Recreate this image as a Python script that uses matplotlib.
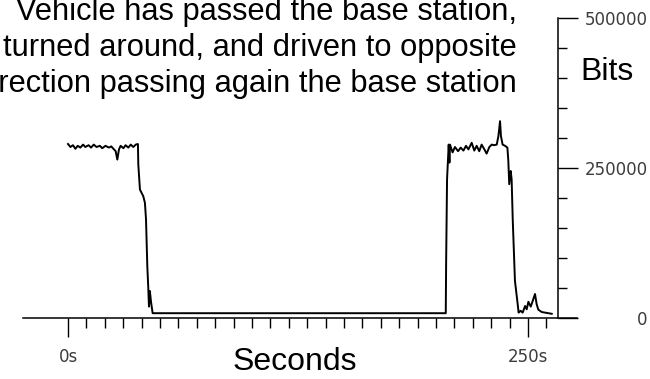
import matplotlib.pyplot as plt
from matplotlib.ticker import FixedLocator

# throughput (seconds, kilobits)
seconds = [0, 1.3, 2.7, 4, 5.3, 6.7, 8.2, 9.4, 11.2, 12.5, 14, 15.5, 17.3, 18.6,
           20.4, 22.2, 23.5, 25, 25.9, 26.8, 27.7, 28.6, 30.1, 31.3, 32.8, 34.1,
           35.5, 36.8, 38.0, 38.2, 39.1, 40.9, 41.8, 42.4, 43.1, 43.6, 44.0, 44.5,
           45.1, 46, 205.3, 205.5, 206, 206.9, 207.3, 207.6, 209, 210.3, 212,
           213.4, 214.9, 216.3, 217.6, 219.4, 220.8, 222.1, 223.5, 224.8, 226.3,
           227.5, 229, 230.3, 231.5, 233, 233.9, 234.8, 235.3, 236.2, 237.5,
           238.8, 239.3, 239.8, 240.6, 241.1, 241.7, 242.9, 244.2, 244.9, 246,
           247.1, 248.4, 249.3, 250.2, 251.5, 252.5, 253.8, 254.7, 255.6, 257.4,
           259.2, 262.9]
kbits = [290, 285, 288, 282, 287, 284, 289, 285, 288, 284, 289, 285, 287, 283,
         287, 284, 286, 281, 278, 264, 281, 287, 283, 288, 284, 289,
         285, 289, 290, 256, 214, 203, 192, 164, 86, 52, 19, 45,
         27, 8, 8, 91, 231, 289, 259, 289, 276, 285, 278,
         284, 279, 287, 281, 292, 279, 287, 278, 289, 281,
         274, 285, 289, 288, 289, 303, 328, 303, 289, 287,
         284, 262, 223, 245, 231, 164, 62, 28, 9, 12,
         9, 20, 14.5, 27, 19, 28, 40, 23, 14, 10,
         9, 7]
bits = [k * 1000 for k in kbits]

x_ticks = [0, 250]
x_tick_labels = ["0s", "250s"]
y_ticks = [0, 250000, 500000]
y_tick_labels = ["0", "250000", "500000"]

note = ("Vehicle has passed the base station,\n"
        "turned around, and driven to opposite\n"
        "direction passing again the base station")

fig = plt.figure(figsize=(6.5, 3.79), dpi=100)
ax = fig.add_axes([0, 0, 1, 1])
ax.patch.set_alpha(0)

ax.plot(seconds, bits, color="black", linewidth=1.4)

ax.set_xlim(-36.96, 316.3)
ax.set_ylim(-101667, 530000)

ax.spines["left"].set_visible(False)
ax.spines["top"].set_visible(False)
ax.spines["bottom"].set_position(("data", 0))
ax.spines["bottom"].set_bounds(-24.5, 276.6)
ax.spines["right"].set_position(("data", 266.3))
ax.spines["right"].set_bounds(0, 500000)
ax.spines["bottom"].set_linewidth(1.1)
ax.spines["right"].set_linewidth(1.1)

ax.xaxis.tick_bottom()
ax.yaxis.tick_right()
ax.tick_params(axis="x", which="major", length=13.7, width=1, pad=8,
               labelsize=12, labelcolor="#3c3c3c")
ax.tick_params(axis="x", which="minor", length=7.2, width=1)
ax.tick_params(axis="y", which="major", length=14.4, width=1, pad=50,
               labelsize=12, labelcolor="#3c3c3c")
ax.tick_params(axis="y", which="minor", length=6.5, width=1)

ax.set_xticks(x_ticks, x_tick_labels)
ax.xaxis.set_minor_locator(FixedLocator([t for t in range(10, 270, 10) if t != 250]))
ax.set_yticks(y_ticks, y_tick_labels, ha="right")
ax.yaxis.set_minor_locator(FixedLocator(list(range(50000, 500000, 50000))))

# the note runs off the top/left edge in the original screenshot too
fig.text(517 / 650, 1 - 48 / 379, note, ha="right", va="center",
         fontsize=22.2, family="Liberation Sans", linespacing=1.27)
fig.text(580 / 650, 1 - 72 / 379, "Bits", ha="left", va="center",
         fontsize=23, family="Liberation Sans")
fig.text(295 / 650, 1 - 362 / 379, "Seconds", ha="center", va="center",
         fontsize=23, family="Liberation Sans")

fig.savefig("out.png", dpi=100)
